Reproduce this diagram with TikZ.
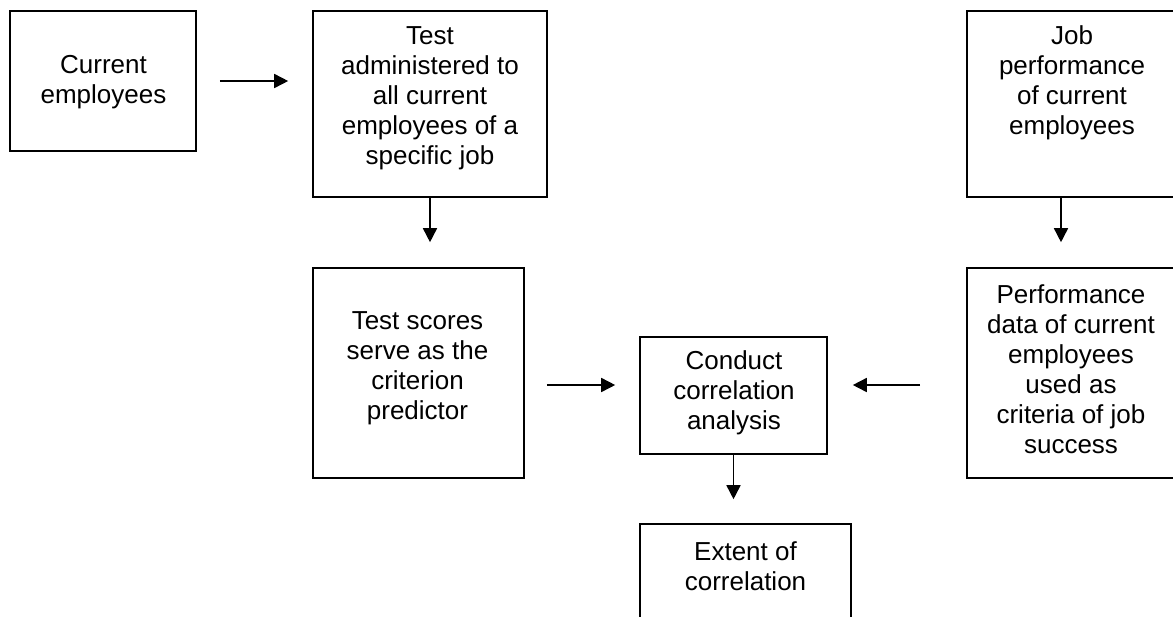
\documentclass[tikz,border=0pt]{standalone}
\usepackage{fontspec}
\setmainfont{Liberation Sans}
\usetikzlibrary{arrows.meta}

\tikzset{
  box/.style={draw, line width=0.8pt, inner sep=0pt},
  txt/.style={align=center, inner sep=0pt},
  arr/.style={line width=0.8pt, -{Triangle[length=7pt,width=7pt]}},
}

\begin{document}
\begin{tikzpicture}[x=0.5pt, y=-0.5pt, font=\fontsize{13}{15}\selectfont]
  \useasboundingbox (0,0) rectangle (1173,616);
  \clip (0,0) rectangle (1173,616);
  \fill[white] (0,0) rectangle (1173,616);

  \node[box, minimum width=93pt, minimum height=70pt] (cur) at (103,81) {};
  \node[box, minimum width=117pt, minimum height=93pt] (test) at (430,104) {};
  \node[box, minimum width=105pt, minimum height=93pt] (job) at (1072,104) {};
  \node[box, minimum width=105.5pt, minimum height=105pt] (ts) at (418.5,373) {};
  \node[box, minimum width=105pt, minimum height=105pt] (perf) at (1072,373) {};
  \node[box, minimum width=93.5pt, minimum height=58.5pt] (cond) at (733.5,395.5) {};
  \node[box, minimum width=105.5pt, minimum height=63pt] (ext) at (745.5,587) {};

  \node[txt] (curtxt) at (103.5,82) {Current\\employees};
  \node[txt] (testtxt) at (430,98.5) {Test\\administered to\\all current\\employees of a\\specific job};
  \node[txt] (jobtxt) at (1072,82.5) {Job\\performance\\of current\\employees};
  \node[txt] (tstxt) at (417.5,368) {Test scores\\serve as the\\criterion\\predictor};
  \node[txt] (perftxt) at (1071,369) {Performance\\data of current\\employees\\used as\\criteria of job\\success};
  \node[txt] (condtxt) at (734,392.5) {Conduct\\correlation\\analysis};
  \node[txt] (exttxt) at (745.5,566) {Extent of\\correlation};

  \coordinate (cinL) at ([yshift=5.25pt]cond.west);
  \coordinate (cinR) at ([yshift=5.25pt]cond.east);

  \draw[arr, shorten <=11.5pt, shorten >=12pt] (cur.east) -- (cur.east -| test.west);
  \draw[arr, shorten >=12.5pt] (test.south) -- (test.south |- ts.north);
  \draw[arr, shorten >=12.5pt] ([xshift=-5.5pt]job.south) -- ([xshift=-5.5pt]job.south |- perf.north);
  \draw[arr, shorten <=11pt, shorten >=12pt] (ts.east |- cinL) -- (cinL);
  \draw[arr, shorten <=23pt, shorten >=12.5pt] (perf.west |- cinR) -- (cinR);
  \draw[arr, shorten >=12pt] (cond.south) -- (cond.south |- ext.north);

\end{tikzpicture}
\end{document}
